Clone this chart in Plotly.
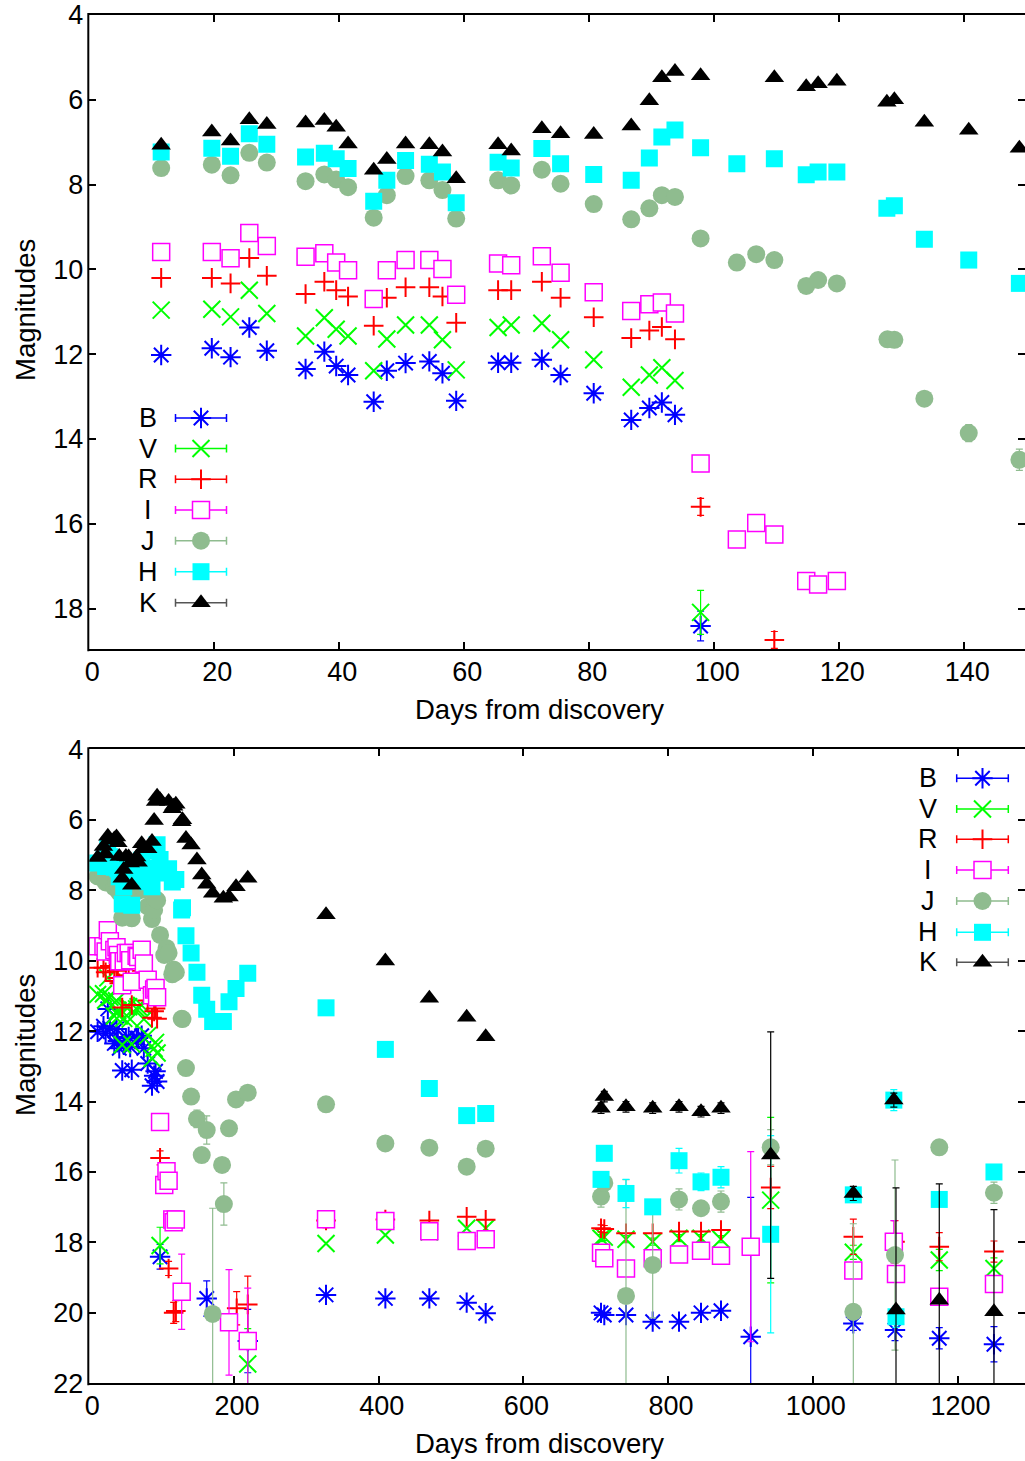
import plotly.graph_objects as go

# ---------------- data (days from discovery, magnitudes, errors) ----------------
EARLY_DAYS = [11.5, 19.6, 22.6, 25.6, 28.4, 34.6, 37.6, 39.5, 41.4, 45.5, 47.6, 50.6, 54.4,
              56.5, 58.7, 65.4, 67.5, 72.4, 75.4, 80.7, 86.7, 89.6, 91.6, 93.7, 97.8]
EARLY_ZERO_ERR = [0, 0, 0, 0, 0, 0, 0, 0, 0, 0, 0, 0, 0, 0, 0, 0, 0, 0, 0, 0, 0, 0, 0, 0]

B_day = EARLY_DAYS + [162.3, 219.0, 327.2, 409.2, 470.0, 521.6, 547.9, 707.3, 711.8, 741.8,
                      778.7, 815.1, 845.5, 873.1, 914.2, 1056.0, 1113.6, 1174.8, 1250.4]
B_mag = [12.02, 11.86, 12.07, 11.37, 11.92, 12.35, 11.94, 12.28, 12.49, 13.12, 12.39, 12.21,
         12.17, 12.45, 13.10, 12.20, 12.20, 12.13, 12.49, 12.92, 13.55, 13.27, 13.14, 13.43, 18.41,
         19.59, 20.80, 19.49, 19.59, 19.59, 19.71, 20.01, 20.00, 20.06, 20.06, 20.25, 20.25, 20.00,
         19.94, 20.68, 20.30, 20.49, 20.72, 20.89]
B_err = EARLY_ZERO_ERR + [0.35, 0.5, 0.9, 0, 0, 0, 0, 0, 0, 0, 0, 0, 0, 0, 0, 3.96, 0.2, 0.3, 0.3, 0.5]

V_day = EARLY_DAYS + [219.0, 327.2, 409.2, 470.0, 521.6, 547.9, 707.3, 711.8, 741.8, 778.7,
                      815.1, 845.5, 873.1, 941.8, 1056.0, 1174.8, 1250.4]
V_mag = [10.96, 10.94, 11.12, 10.49, 11.04, 11.57, 11.14, 11.41, 11.57, 12.39, 11.64, 11.31,
         11.31, 11.66, 12.37, 11.37, 11.31, 11.27, 11.66, 12.13, 12.78, 12.49, 12.32, 12.62, 18.09,
         21.45, 18.03, 17.79, 17.70, 17.60, 17.60, 17.88, 17.85, 17.91, 17.98, 17.88, 17.88, 17.91,
         16.80, 18.28, 18.50, 18.74]
V_err = EARLY_ZERO_ERR + [0.52, 1.0, 0, 0, 0, 0, 0, 0.1, 0.1, 0.1, 0.1, 0.1, 0.1, 0.1, 2.35, 0.2, 0.3, 0.3]

R_day = EARLY_DAYS + [109.6, 116.6, 119.6, 203.7, 219.0, 327.2, 409.2, 470.0, 521.6, 547.9,
                      707.3, 711.8, 741.8, 778.7, 815.1, 845.5, 873.1, 941.8, 1056.0, 1113.6,
                      1174.8, 1250.4]
R_mag = [10.20, 10.20, 10.33, 9.73, 10.15, 10.58, 10.29, 10.49, 10.64, 11.33, 10.67, 10.42,
         10.42, 10.64, 11.26, 10.49, 10.49, 10.29, 10.67, 11.13, 11.62, 11.44, 11.36, 11.65, 15.60,
         18.74, 20.00, 19.95, 19.87, 19.76, 17.38, 17.35, 17.38, 17.27, 17.36, 17.60, 17.62, 17.74,
         17.74, 17.69, 17.69, 17.65, 16.44, 17.84, 17.98, 18.12, 18.26]
R_err = EARLY_ZERO_ERR + [0.2, 0.2, 0.3, 0.3, 0.47, 0.8, 0.2, 0.15, 0, 0, 0, 0.1, 0.1, 0, 0, 0, 0, 0,
                          0.6, 0.5, 0.6, 0.4, 0.3]

I_day = EARLY_DAYS + [103.6, 106.7, 109.6, 114.7, 116.6, 119.6, 127.7, 193.1, 219.0, 327.2,
                      409.2, 470.0, 521.6, 547.9, 707.3, 711.8, 741.8, 778.7, 815.1, 845.5,
                      873.1, 914.2, 1056.0, 1112.0, 1115.0, 1174.8, 1250.4]
I_mag = [9.59, 9.59, 9.74, 9.14, 9.45, 9.70, 9.62, 9.84, 10.02, 10.70, 10.02, 9.78, 9.78, 9.99,
         10.60, 9.86, 9.90, 9.69, 10.08, 10.54, 10.98, 10.82, 10.78, 11.04, 14.58,
         16.37, 15.98, 16.25, 17.35, 17.43, 17.35, 19.40, 20.27, 20.80, 17.34, 17.39, 17.68, 17.96,
         17.91, 18.29, 18.45, 18.74, 18.45, 18.34, 18.24, 18.38, 18.12, 18.80, 17.98, 18.90, 19.54,
         19.18]
I_err = EARLY_ZERO_ERR + [0, 0, 0, 0, 0, 0, 0, 1.07, 1.5, 1.5, 0, 0, 0, 0, 0, 0, 0, 0, 0, 0, 0, 0,
                          2.7, 0, 0.6, 0, 0, 0]

J_day = EARLY_DAYS + [103.6, 106.7, 109.6, 114.7, 116.6, 119.6, 127.7, 128.8, 133.6, 140.7,
                      148.8, 155.4, 162.3, 170.5, 183.5, 186.0, 193.1, 202.8, 219.0, 327.2,
                      409.2, 470.0, 521.6, 547.9, 707.3, 711.8, 741.8, 778.7, 815.1, 845.5,
                      873.1, 941.8, 1056.0, 1113.6, 1174.8, 1250.4]
J_mag = [7.61, 7.53, 7.78, 7.25, 7.48, 7.92, 7.76, 7.88, 8.06, 8.78, 8.25, 7.80, 7.90, 8.13,
         8.80, 7.90, 8.02, 7.65, 7.98, 8.46, 8.82, 8.56, 8.25, 8.29, 9.27,
         9.84, 9.64, 9.78, 10.39, 10.25, 10.33, 11.65, 11.66, 13.05, 13.86, 14.49, 15.52, 14.81,
         20.03, 15.80, 16.91, 14.76, 13.94, 13.75, 14.08, 15.19, 15.31, 15.85, 15.34, 16.70, 16.31,
         19.52, 18.64, 16.78, 17.03, 16.84, 15.30, 19.97, 18.36, 15.30, 16.59]
J_err = EARLY_ZERO_ERR + [0, 0, 0, 0, 0, 0, 0, 0, 0, 0.15, 0.2, 0.25, 0.1, 0.4, 3.0, 0, 0.6, 0.15,
                          0, 0, 0, 0, 0.1, 0.2, 0.2, 0.3, 0.15, 3.3, 1.5, 0.3, 0, 0.3, 0.5, 2.5,
                          2.7, 0.2, 0.3]

H_day = EARLY_DAYS + [103.6, 109.6, 114.7, 116.6, 119.6, 127.6, 128.8, 133.6, 140.7, 148.8,
                      155.4, 162.3, 170.5, 185.3, 193.1, 202.8, 219.0, 327.2, 409.2, 470.0,
                      521.6, 547.9, 707.3, 711.8, 741.8, 778.7, 815.1, 845.5, 873.1, 941.8,
                      1056.0, 1112.0, 1115.0, 1174.8, 1250.4]
H_mag = [7.23, 7.14, 7.33, 6.80, 7.05, 7.35, 7.26, 7.39, 7.62, 8.39, 7.90, 7.43, 7.52, 7.70,
         8.43, 7.47, 7.61, 7.15, 7.51, 7.76, 7.90, 7.37, 6.88, 6.71, 7.13,
         7.51, 7.39, 7.77, 7.70, 7.70, 8.56, 8.50, 9.29, 9.78, 10.33, 10.98, 11.38, 11.73, 11.73,
         11.17, 10.79, 10.36, 11.34, 12.52, 13.63, 14.40, 14.34, 16.21, 15.47, 16.61, 16.99, 15.68,
         16.28, 16.15, 17.77, 16.65, 13.96, 20.11, 16.78, 16.00]
H_err = EARLY_ZERO_ERR + [0, 0, 0, 0, 0, 0, 0, 0, 0, 0, 0, 0, 0, 0, 0, 0, 0, 0, 0, 0, 0, 0, 0,
                          0.2, 0.15, 0.4, 0, 0.35, 0.25, 0.3, 2.8, 0.2, 0.3, 0.3, 0, 0.2]

K_day = EARLY_DAYS + [109.6, 114.7, 116.6, 119.6, 127.6, 128.8, 133.6, 140.7, 148.8, 155.4,
                      162.3, 170.5, 185.3, 193.1, 202.8, 219.0, 327.2, 409.2, 470.0, 521.6,
                      547.9, 707.3, 711.8, 741.8, 778.7, 815.1, 845.5, 873.1, 941.8, 1056.0,
                      1112.0, 1115.0, 1174.8, 1250.4]
K_mag = [7.07, 6.76, 6.97, 6.47, 6.58, 6.55, 6.49, 6.65, 7.04, 7.66, 7.41, 7.04, 7.06, 7.23,
         7.86, 7.06, 7.21, 6.68, 6.80, 6.82, 6.62, 6.02, 5.48, 5.33, 5.43,
         5.48, 5.69, 5.62, 5.56, 6.06, 6.00, 6.53, 6.72, 7.14, 7.57, 7.83, 8.09, 8.23, 8.19, 7.90,
         7.66, 8.70, 10.01, 11.07, 11.61, 12.16, 14.19, 13.86, 14.15, 14.19, 14.15, 14.29, 14.19,
         15.52, 16.61, 13.96, 19.92, 19.64, 19.97]
K_err = EARLY_ZERO_ERR + [0, 0, 0, 0, 0, 0, 0, 0, 0, 0, 0, 0, 0, 0, 0, 0, 0, 0, 0, 0, 0, 0,
                          0.15, 0.15, 0.15, 0.15, 0.15, 0.15, 0.15, 3.5, 0.2, 0.2, 3.47, 3.3, 2.9]

BAND_NAMES = ["B", "V", "R", "I", "J", "H", "K"]

X1_TICKS = [0, 20, 40, 60, 80, 100, 120, 140]
X2_TICKS = [0, 200, 400, 600, 800, 1000, 1200]
Y1_TICKS = [4, 6, 8, 10, 12, 14, 16, 18]
Y2_TICKS = [4, 6, 8, 10, 12, 14, 16, 18, 20, 22]

# ---------------- styles ----------------
STYLE = {
    "B": dict(symbol="asterisk-open", size=17, color="#0000ff", lc="#0000ff", lw=2, ec="#0000ff"),
    "V": dict(symbol="x-thin-open", size=17, color="#00ff00", lc="#00ff00", lw=2, ec="#00ff00"),
    "R": dict(symbol="cross-thin-open", size=14, color="#ff0000", lc="#ff0000", lw=2, ec="#ff0000"),
    "I": dict(symbol="square", size=17, color="#ffffff", lc="#ff00ff", lw=1.5, ec="#ff00ff"),
    "J": dict(symbol="circle", size=18, color="#8fbc8f", lc="#8fbc8f", lw=0, ec="#8fbc8f"),
    "H": dict(symbol="square", size=17, color="#00ffff", lc="#00ffff", lw=0, ec="#00ffff"),
    "K": dict(symbol="triangle-up", size=17, color="#000000", lc="#000000", lw=0, ec="#000000"),
}
DATA = {
    "B": (B_day, B_mag, B_err), "V": (V_day, V_mag, V_err), "R": (R_day, R_mag, R_err),
    "I": (I_day, I_mag, I_err), "J": (J_day, J_mag, J_err), "H": (H_day, H_mag, H_err),
    "K": (K_day, K_mag, K_err),
}
for b, (d, m, e) in DATA.items():
    assert len(d) == len(m) == len(e), (b, len(d), len(m), len(e))

FIG_W, FIG_H = 1025, 1461
PLOT_L, PLOT_R = 89.3, 1025.0
P1_TOP, P1_BOT = 15.0, 649.3
P2_TOP, P2_BOT = 749.3, 1383.3
Y1_RANGE = [18.96, 4]
Y2_RANGE = [22, 4]
FONT = "Liberation Sans, Arial, Helvetica, sans-serif"
FS_TICK = 27
FS_TITLE = 27.5


def ydom(top, bot):
    return [1 - bot / FIG_H, 1 - top / FIG_H]


def marker(b):
    s = STYLE[b]
    return dict(symbol=s["symbol"], size=s["size"], color=s["color"],
                line=dict(color=s["lc"], width=s["lw"]))


fig = go.Figure()

for xa, ya, ymax in (("x", "y", Y1_RANGE[0]), ("x2", "y2", Y2_RANGE[0])):
    for b in BAND_NAMES:
        d, m, e = DATA[b]
        s = STYLE[b]
        # error bars only for points inside the panel's magnitude range
        idx_e = [i for i in range(len(d)) if e[i] > 0 and m[i] <= ymax]
        idx_n = [i for i in range(len(d)) if i not in idx_e]
        fig.add_trace(go.Scatter(
            x=[d[i] for i in idx_n], y=[m[i] for i in idx_n], mode="markers",
            marker=marker(b), xaxis=xa, yaxis=ya, showlegend=False, hoverinfo="skip"))
        fig.add_trace(go.Scatter(
            x=[d[i] for i in idx_e], y=[m[i] for i in idx_e], mode="markers",
            marker=marker(b), xaxis=xa, yaxis=ya, showlegend=False, hoverinfo="skip",
            error_y=dict(type="data", array=[e[i] for i in idx_e], visible=True,
                         color=s["ec"], thickness=1.2, width=3.5)))

# ---------------- manual gnuplot-style keys (pixel overlay axes) ----------------
KEYS = [
    dict(text_x=147.5, mark_x=201.0, half=25.5, rows=[418, 448.5, 479.3, 510, 540.7, 571.7, 602.7]),
    dict(text_x=928.3, mark_x=982.5, half=25.8, rows=[778.3, 809, 839.3, 870, 901, 932.3, 962.3]),
]
annotations = []
for key in KEYS:
    for b, yrow in zip(BAND_NAMES, key["rows"]):
        s = STYLE[b]
        lcol = "#555555" if b == "K" else s["ec"]
        fig.add_trace(go.Scatter(
            x=[key["mark_x"]], y=[yrow], mode="markers", marker=marker(b),
            xaxis="x3", yaxis="y3", showlegend=False, hoverinfo="skip",
            error_x=dict(type="data", array=[key["half"]], visible=True, color=lcol,
                         thickness=1.5, width=4)))
        annotations.append(dict(text=b, x=key["text_x"], y=yrow, xref="x3", yref="y3",
                                showarrow=False, xanchor="center", yanchor="middle",
                                font=dict(family=FONT, size=FS_TICK, color="black")))

# axis titles
for ty in (709, 1443):
    annotations.append(dict(text="Days from discovery", x=539, y=ty, xref="x3", yref="y3",
                            showarrow=False, xanchor="center", yanchor="middle",
                            font=dict(family=FONT, size=FS_TITLE, color="black")))
for ty in (310, 1045):
    annotations.append(dict(text="Magnitudes", x=25, y=ty, xref="x3", yref="y3", textangle=-90,
                            showarrow=False, xanchor="center", yanchor="middle",
                            font=dict(family=FONT, size=FS_TITLE, color="black")))

axis_common = dict(ticks="inside", ticklen=7, tickwidth=2, tickcolor="black",
                   showgrid=False, zeroline=False, linecolor="black", linewidth=2,
                   automargin=False,
                   tickfont=dict(family=FONT, size=FS_TICK, color="black"), fixedrange=True)

shapes = []
for top, bot in ((P1_TOP, P1_BOT), (P2_TOP, P2_BOT)):
    shapes.append(dict(type="line", xref="x3", yref="y3", x0=PLOT_L - 1, x1=PLOT_L - 1,
                       y0=top - 2, y1=bot + 2, line=dict(color="black", width=2)))

fig.update_layout(
    width=FIG_W, height=FIG_H, autosize=False,
    margin=dict(l=0, r=0, t=0, b=0, pad=0, autoexpand=False),
    paper_bgcolor="white", plot_bgcolor="rgba(0,0,0,0)", showlegend=False,
    xaxis=dict(domain=[PLOT_L / FIG_W, PLOT_R / FIG_W], anchor="y", range=[0, 149.7],
               tickvals=X1_TICKS, ticktext=[str(t) for t in X1_TICKS], showline=True,
               mirror="ticks", ticklabelstandoff=-3, ticklabelshift=3, **axis_common),
    yaxis=dict(domain=ydom(P1_TOP, P1_BOT), anchor="x", range=Y1_RANGE,
               tickvals=Y1_TICKS, ticktext=[str(t) for t in Y1_TICKS], showline=False,
               mirror="ticks", ticklabelstandoff=5, **axis_common),
    xaxis2=dict(domain=[PLOT_L / FIG_W, PLOT_R / FIG_W], anchor="y2", range=[0, 1293.3],
                tickvals=X2_TICKS, ticktext=[str(t) for t in X2_TICKS], showline=True,
                mirror="ticks", ticklabelstandoff=-3, ticklabelshift=3, **axis_common),
    yaxis2=dict(domain=ydom(P2_TOP, P2_BOT), anchor="x2", range=Y2_RANGE,
                tickvals=Y2_TICKS, ticktext=[str(t) for t in Y2_TICKS], showline=False,
                mirror="ticks", ticklabelstandoff=5, **axis_common),
    xaxis3=dict(domain=[0, 1], anchor="y3", range=[0, FIG_W], visible=False, fixedrange=True),
    yaxis3=dict(domain=[0, 1], anchor="x3", range=[FIG_H, 0], visible=False, fixedrange=True),
    annotations=annotations, shapes=shapes,
)

fig.write_html(
    "out.html",
    config={"responsive": False, "displayModeBar": False},
    post_script="document.body.style.margin='0';document.body.style.overflow='hidden';",
)
